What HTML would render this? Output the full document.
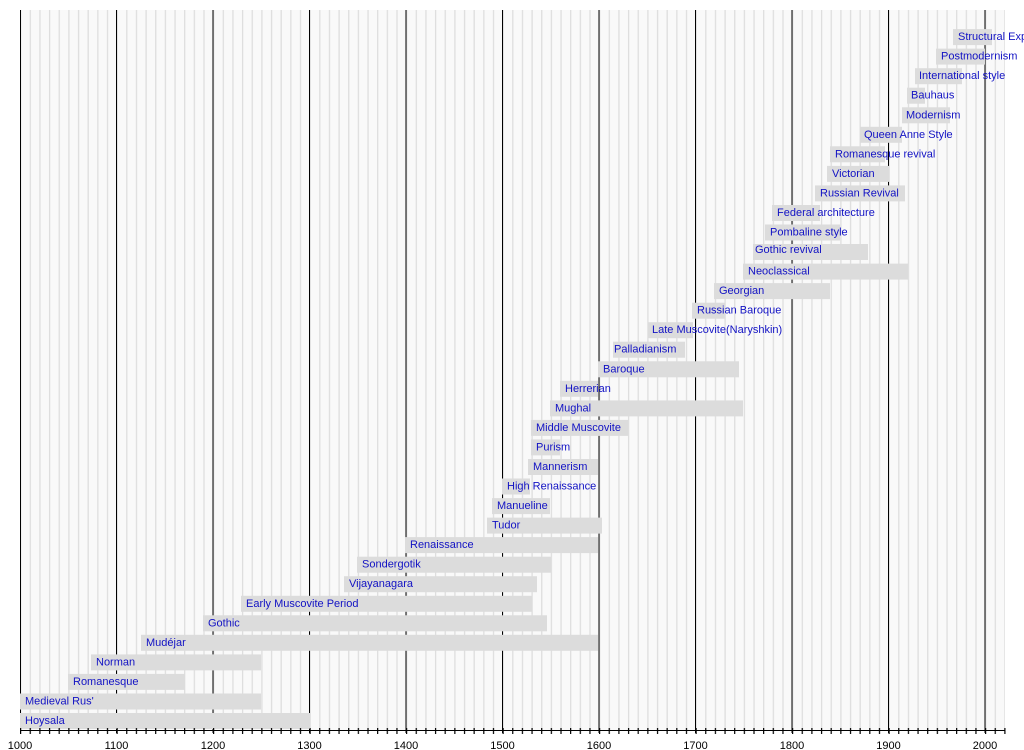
<!DOCTYPE html>
<html><head><meta charset="utf-8"><style>
html,body{margin:0;padding:0;background:#fff;}
svg{display:block;font-family:"Liberation Sans",Arial,sans-serif;}
.b rect{fill:#dcdcdc;}
.b text{fill:#1212c4;font-size:11px;}
</style></head><body>
<svg width="1024" height="750" viewBox="0 0 1024 750">
<defs>
<pattern id="mg" x="20" y="0" width="9.65" height="750" patternUnits="userSpaceOnUse">
<rect x="0" y="0" width="1.3" height="750" fill="#dedede"/>
</pattern>
<pattern id="tk" x="20" y="0" width="9.65" height="750" patternUnits="userSpaceOnUse">
<rect x="0" y="0" width="1.2" height="750" fill="#000"/>
</pattern>
</defs>
<rect x="20" y="10" width="985" height="720" fill="#f9f9f9"/>
<rect x="20" y="10" width="985" height="720" fill="url(#mg)"/>
<g stroke="#000" stroke-width="1">
<line x1="20.5" y1="10" x2="20.5" y2="733"/>
<line x1="116.5" y1="10" x2="116.5" y2="733"/>
<line x1="213" y1="10" x2="213" y2="733"/>
<line x1="309.5" y1="10" x2="309.5" y2="733"/>
<line x1="406" y1="10" x2="406" y2="733"/>
<line x1="502.5" y1="10" x2="502.5" y2="733"/>
<line x1="599" y1="10" x2="599" y2="733"/>
<line x1="695.5" y1="10" x2="695.5" y2="733"/>
<line x1="792" y1="10" x2="792" y2="733"/>
<line x1="888.5" y1="10" x2="888.5" y2="733"/>
<line x1="985" y1="10" x2="985" y2="733"/>
</g>
<g class="b">
<g transform="translate(0,720)"><rect x="20" y="-7" width="290" height="16"/><text x="25" y="4">Hoysala</text></g>
<g transform="translate(0,700.5)"><rect x="20" y="-7" width="241" height="16"/><text x="25" y="4">Medieval Rus'</text></g>
<g transform="translate(0,680.9)"><rect x="68" y="-7" width="117" height="16"/><text x="73" y="4">Romanesque</text></g>
<g transform="translate(0,661.4)"><rect x="91" y="-7" width="170" height="16"/><text x="96" y="4">Norman</text></g>
<g transform="translate(0,641.8)"><rect x="141" y="-7" width="457" height="16"/><text x="146" y="4">Mudéjar</text></g>
<g transform="translate(0,622.3)"><rect x="203" y="-7" width="344" height="16"/><text x="208" y="4">Gothic</text></g>
<g transform="translate(0,602.8)"><rect x="241" y="-7" width="291" height="16"/><text x="246" y="4">Early Muscovite Period</text></g>
<g transform="translate(0,583.2)"><rect x="344" y="-7" width="193" height="16"/><text x="349" y="4">Vijayanagara</text></g>
<g transform="translate(0,563.7)"><rect x="357" y="-7" width="194" height="16"/><text x="362" y="4">Sondergotik</text></g>
<g transform="translate(0,544.1)"><rect x="405" y="-7" width="193" height="16"/><text x="410" y="4">Renaissance</text></g>
<g transform="translate(0,524.6)"><rect x="487" y="-7" width="115" height="16"/><text x="492" y="4">Tudor</text></g>
<g transform="translate(0,505.1)"><rect x="492" y="-7" width="58" height="16"/><text x="497" y="4">Manueline</text></g>
<g transform="translate(0,485.5)"><rect x="502" y="-7" width="28" height="16"/><text x="507" y="4">High Renaissance</text></g>
<g transform="translate(0,466)"><rect x="528" y="-7" width="70" height="16"/><text x="533" y="4">Mannerism</text></g>
<g transform="translate(0,446.4)"><rect x="531" y="-7" width="29" height="16"/><text x="536" y="4">Purism</text></g>
<g transform="translate(0,426.9)"><rect x="531" y="-7" width="97" height="16"/><text x="536" y="4">Middle Muscovite</text></g>
<g transform="translate(0,407.4)"><rect x="550" y="-7" width="193" height="16"/><text x="555" y="4">Mughal</text></g>
<g transform="translate(0,387.8)"><rect x="560" y="-7" width="38" height="16"/><text x="565" y="4">Herrerian</text></g>
<g transform="translate(0,368.3)"><rect x="598" y="-7" width="141" height="16"/><text x="603" y="4">Baroque</text></g>
<g transform="translate(0,348.7)"><rect x="613" y="-7" width="72" height="16"/><text x="614" y="4">Palladianism</text></g>
<g transform="translate(0,329.2)"><rect x="648" y="-7" width="45" height="16"/><text x="652" y="4">Late Muscovite(Naryshkin)</text></g>
<g transform="translate(0,309.7)"><rect x="692" y="-7" width="33" height="16"/><text x="697" y="4">Russian Baroque</text></g>
<g transform="translate(0,290.1)"><rect x="714" y="-7" width="116" height="16"/><text x="719" y="4">Georgian</text></g>
<g transform="translate(0,270.6)"><rect x="743" y="-7" width="165" height="16"/><text x="748" y="4">Neoclassical</text></g>
<g transform="translate(0,251)"><rect x="753" y="-7" width="115" height="16"/><text x="755" y="2">Gothic revival</text></g>
<g transform="translate(0,231.5)"><rect x="765" y="-7" width="75" height="16"/><text x="770" y="4">Pombaline style</text></g>
<g transform="translate(0,212)"><rect x="772" y="-7" width="48" height="16"/><text x="777" y="4">Federal architecture</text></g>
<g transform="translate(0,192.4)"><rect x="815" y="-7" width="90" height="16"/><text x="820" y="4">Russian Revival</text></g>
<g transform="translate(0,172.9)"><rect x="827" y="-7" width="62" height="16"/><text x="832" y="4">Victorian</text></g>
<g transform="translate(0,153.3)"><rect x="830" y="-7" width="55" height="16"/><text x="835" y="4">Romanesque revival</text></g>
<g transform="translate(0,133.8)"><rect x="860" y="-7" width="42" height="16"/><text x="864" y="4">Queen Anne Style</text></g>
<g transform="translate(0,114.3)"><rect x="902" y="-7" width="48" height="16"/><text x="906" y="4">Modernism</text></g>
<g transform="translate(0,94.7)"><rect x="907" y="-7" width="18" height="16"/><text x="911" y="4">Bauhaus</text></g>
<g transform="translate(0,75.2)"><rect x="915" y="-7" width="47" height="16"/><text x="919" y="4">International style</text></g>
<g transform="translate(0,55.6)"><rect x="936" y="-7" width="49" height="16"/><text x="941" y="4">Postmodernism</text></g>
<g transform="translate(0,36.1)"><rect x="953" y="-7" width="39" height="16"/><text x="958" y="4">Structural Expressionism</text></g>
</g>
<line x1="20" y1="730.5" x2="1005" y2="730.5" stroke="#000" stroke-width="1"/>
<rect x="20" y="728" width="986" height="6" fill="url(#tk)"/>
<g font-size="11" fill="#000" text-anchor="middle">
<text x="20" y="749">1000</text>
<text x="116.5" y="749">1100</text>
<text x="213" y="749">1200</text>
<text x="309.5" y="749">1300</text>
<text x="406" y="749">1400</text>
<text x="502.5" y="749">1500</text>
<text x="599" y="749">1600</text>
<text x="695.5" y="749">1700</text>
<text x="792" y="749">1800</text>
<text x="888.5" y="749">1900</text>
<text x="985" y="749">2000</text>
</g>
</svg>
</body></html>
